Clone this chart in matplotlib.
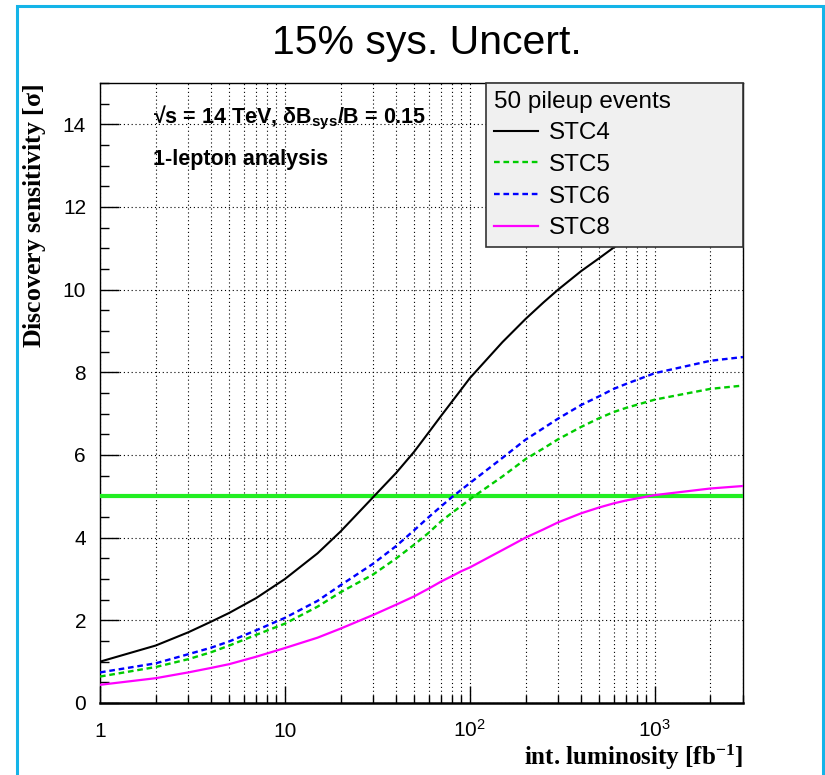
import matplotlib
matplotlib.use('Agg')
import matplotlib.pyplot as plt
from matplotlib.patches import Rectangle
from matplotlib.ticker import LogLocator, NullFormatter, MultipleLocator

# integrated luminosity [fb^-1]
lumi = [1, 2, 3, 4, 5, 7, 10, 15, 20, 30, 40, 50, 60, 70, 80, 90, 100, 150, 200, 250, 300, 400,
        500, 600, 700, 1000, 2000, 3000]

# discovery sensitivity [sigma]
stc4 = [1.00, 1.39, 1.71, 1.97, 2.18, 2.54, 3.00, 3.62, 4.15, 4.98, 5.57, 6.08, 6.55, 6.95, 7.29,
        7.59, 7.86, 8.73, 9.29, 9.69, 10.00, 10.45, 10.76, 11.02, 11.20, 11.56, 12.09, 12.27]
stc5 = [0.64, 0.87, 1.06, 1.23, 1.39, 1.65, 1.92, 2.33, 2.68, 3.11, 3.50, 3.83, 4.12, 4.40, 4.60,
        4.77, 4.93, 5.48, 5.90, 6.16, 6.38, 6.68, 6.89, 7.04, 7.14, 7.34, 7.60, 7.68]
stc6 = [0.74, 0.96, 1.18, 1.34, 1.49, 1.76, 2.06, 2.47, 2.85, 3.37, 3.80, 4.18, 4.50, 4.76, 4.98,
        5.16, 5.32, 5.93, 6.37, 6.65, 6.88, 7.21, 7.42, 7.60, 7.72, 7.98, 8.28, 8.37]
stc8 = [0.44, 0.60, 0.74, 0.85, 0.94, 1.12, 1.33, 1.58, 1.80, 2.13, 2.38, 2.58, 2.77, 2.94, 3.07,
        3.19, 3.28, 3.70, 4.00, 4.20, 4.37, 4.59, 4.73, 4.83, 4.90, 5.03, 5.19, 5.25]
threshold = 5.0

sans = 'Liberation Sans'
serif = 'Liberation Serif'

fig = plt.figure(figsize=(8.25, 7.75), dpi=100)
fig.patch.set_facecolor('white')
ax = fig.add_axes([100 / 825, 1 - 703 / 775, 643 / 825, 620 / 775])

ax.axhline(threshold, color='#22ee22', lw=3.0, zorder=3)
ax.plot(lumi, stc4, color='black', lw=1.5, label='STC4', zorder=4)
ax.plot(lumi, stc5, color='#00cc00', lw=1.7, dashes=(2.4, 1.6), label='STC5', zorder=4)
ax.plot(lumi, stc6, color='#0000ff', lw=1.7, dashes=(2.4, 1.6), label='STC6', zorder=4)
ax.plot(lumi, stc8, color='#ff00ff', lw=1.6, label='STC8', zorder=4)

ax.set_xscale('log')
ax.set_xlim(1, 3000)
ax.set_ylim(0, 15)

# ticks
ax.set_xticks([1, 10, 100, 1000],
              ['1', '10', r'10$\mathregular{^{2}}$', r'10$\mathregular{^{3}}$'],
              va='baseline', fontfamily=sans, fontsize=15)
ax.xaxis.set_minor_locator(LogLocator(base=10, subs=range(2, 10)))
ax.xaxis.set_minor_formatter(NullFormatter())
ax.yaxis.set_major_locator(MultipleLocator(2))
ax.yaxis.set_minor_locator(MultipleLocator(0.5))
for lbl in ax.get_yticklabels():
    lbl.set_fontfamily(sans)
ax.tick_params(axis='x', which='major', direction='in', length=12, width=1, pad=24.5)
ax.tick_params(axis='x', which='minor', direction='in', length=6, width=1)
ax.tick_params(axis='y', which='major', direction='in', length=14, width=1, pad=10, labelsize=15)
ax.tick_params(axis='y', which='minor', direction='in', length=6.5, width=1)

ax.grid(which='both', axis='x', color='black', ls=(0, (1, 2.5)), lw=0.8)
ax.grid(which='major', axis='y', color='black', ls=(0, (1, 2.5)), lw=0.8)
ax.set_axisbelow(True)
for s in ax.spines.values():
    s.set_linewidth(1.0)
ax.spines['bottom'].set_linewidth(1.8)

# legend
leg = ax.legend(loc='upper left', bbox_to_anchor=(0.6003, 1.0, 0.3997, 0), mode='expand',
                borderaxespad=0, title='50 pileup events', alignment='left',
                prop={'family': sans, 'size': 17.5},
                title_fontproperties={'family': sans, 'size': 17.5},
                handlelength=1.85, handletextpad=0.41, labelspacing=0.40, borderpad=0.31,
                fancybox=False, framealpha=1, facecolor='#f0f0f0', edgecolor='#333333')
leg.get_frame().set_linewidth(1.2)

# labels
fig.text(427 / 825, 1 - 43 / 775, '15% sys. Uncert.', ha='center', va='center',
         fontfamily=sans, fontsize=29.5)
fig.text(35 / 825, 1 - 84 / 775, r'Discovery sensitivity [$\mathregular{\sigma}$]', rotation=90,
         ha='center', va='top', fontfamily=serif, fontweight='bold', fontsize=18.6)
fig.text(743 / 825, 1 - 757 / 775, r'int. luminosity [fb$\mathregular{^{-1}}$]', ha='right',
         va='center', fontfamily=serif, fontweight='bold', fontsize=18)
fig.text(153 / 825, 1 - 123 / 775, r'√s = 14 TeV, δB$\mathregular{_{sys}}$/B = 0.15',
         ha='left', va='baseline', fontfamily=sans, fontweight='bold', fontsize=15.5)
fig.text(153 / 825, 1 - 165 / 775, '1-lepton analysis', ha='left', va='baseline',
         fontfamily=sans, fontweight='bold', fontsize=15.5)

# light blue frame around the canvas
fig.patches.append(Rectangle((17 / 825, -0.02), 806 / 825, 1.02 - 6 / 775, transform=fig.transFigure,
                             fill=False, edgecolor='#14b4e8', lw=2.2, zorder=10))

fig.savefig('out.png', dpi=100)
